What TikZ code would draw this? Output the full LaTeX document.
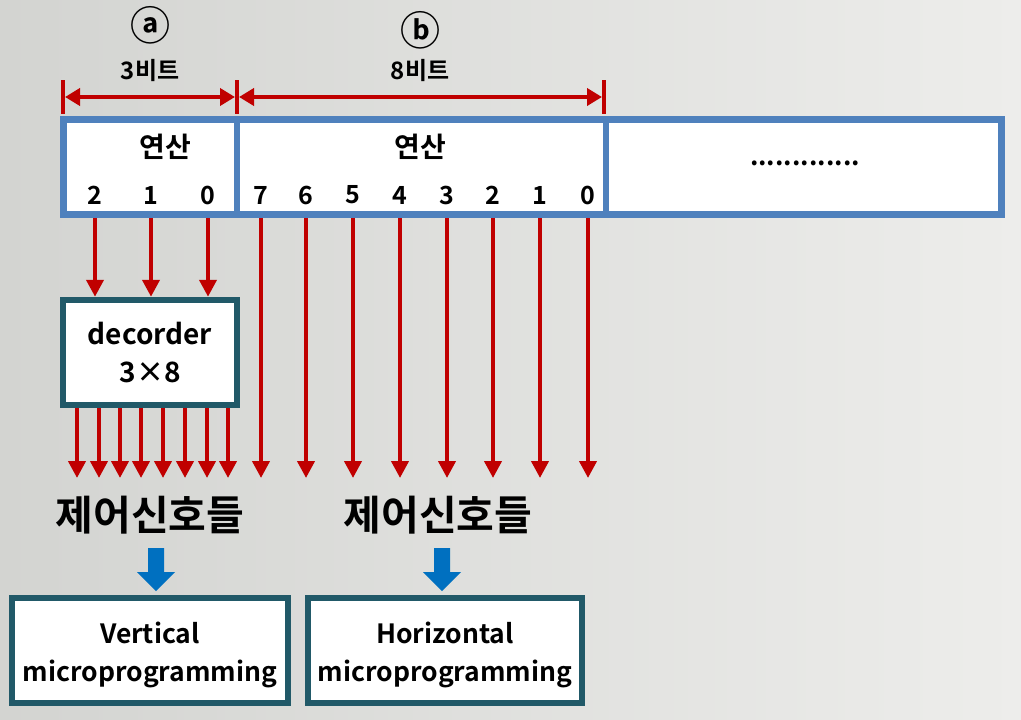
\documentclass[tikz,border=0pt]{standalone}
\usepackage{fontspec}
\setmainfont{Noto Sans CJK KR}[BoldFont={Noto Sans CJK KR Bold}]
\usetikzlibrary{arrows.meta}
\definecolor{bred}{HTML}{C00000}
\definecolor{bblue}{HTML}{4F81BD}
\definecolor{bteal}{HTML}{215968}
\definecolor{barrow}{HTML}{0070C0}
\definecolor{bgl}{HTML}{D3D4D1}
\definecolor{bgr}{HTML}{EDEDEB}
\tikzset{
  fs/.style 2 args={font=\bfseries\fontsize{#1}{#2}\selectfont},
  txt/.style={inner sep=0pt, text=black},
  redarrow/.style={draw=bred, line width=4pt, -{Triangle[width=17pt,length=17pt]}},
  dimarrow/.style={draw=bred, line width=4pt, {Triangle[width=17pt,length=15pt]}-{Triangle[width=17pt,length=15pt]}},
  tick/.style={draw=bred, line width=4pt},
  tealbox/.style={draw=bteal, line width=6.5pt, fill=white, align=center, inner sep=0pt},
  blockarrow/.style={fill=barrow, draw=none}
}
\begin{document}
\begin{tikzpicture}[x=1pt,y=-1pt]
\shade[left color=bgl, right color=bgr] (0,0) rectangle (1021,720);
\useasboundingbox (0,0) rectangle (1021,720);

% register
\node[draw=bblue, line width=7pt, fill=white, minimum width=938pt, minimum height=95pt, inner sep=0pt] (reg) at (532.5,167) {};
\coordinate (d1) at (237,167);
\coordinate (d2) at (606,167);
\draw[draw=bblue, line width=6pt] (d1 |- reg.north) -- (d1 |- reg.south);
\draw[draw=bblue, line width=6pt] (d2 |- reg.north) -- (d2 |- reg.south);

\node[txt, fs={28}{34}] (opa) at (165,147) {연산};
\node[txt, fs={28}{34}] (opb) at (420,147) {연산};
\node[txt, fs={26}{30}] (dots) at (805,163) {.............};

\foreach \x/\l [count=\i] in {95/2,151/1,208/0} {
  \node[txt, fs={25}{30}] (ba\i) at (\x,195) {\l};
}
\foreach \x/\l [count=\i] in {261/7,306/6,353/5,400/4,447/3,493/2,540/1,588/0} {
  \node[txt, fs={25}{30}] (bb\i) at (\x,195) {\l};
}

% dimension lines
\node[txt, fs={40}{44}] (ca) at (150,25) {ⓐ};
\node[txt, fs={40}{44}] (cb) at (420,30) {ⓑ};
\node[txt, fs={24}{29}] (la) at (150,71) {3비트};
\node[txt, fs={24}{29}] (lb) at (420,71) {8비트};
\coordinate (t1a) at (63,80);  \coordinate (t1b) at (63,114);
\coordinate (t2a) at (237,80); \coordinate (t2b) at (237,114);
\coordinate (t3a) at (604,80); \coordinate (t3b) at (604,114);
\draw[tick] (t1a) -- (t1b);
\draw[tick] (t2a) -- (t2b);
\draw[tick] (t3a) -- (t3b);
\coordinate (m1) at (63,97); \coordinate (m2) at (237,97); \coordinate (m3) at (604,97);
\draw[dimarrow] ([xshift=2pt]m1) -- ([xshift=-2pt]m2);
\draw[dimarrow] ([xshift=2pt]m2) -- ([xshift=-2pt]m3);

% decoder
\node[tealbox, minimum width=174pt, minimum height=105pt, fs={28}{38}] (dec) at (150,352.5) {decorder\\3×8};
\foreach \x [count=\i] in {95,151,208} {
  \coordinate (sa\i) at (\x,218);
  \draw[redarrow] (sa\i) -- (sa\i |- dec.north);
}
\coordinate (row) at (0,478);
\foreach \x [count=\i] in {77,99,120,141,163,185,207,228} {
  \coordinate (oa\i) at (\x,408);
  \draw[redarrow] (oa\i) -- (oa\i |- row);
}
\foreach \x [count=\i] in {261,306,353,400,447,493,540,588} {
  \coordinate (sb\i) at (\x,218);
  \draw[redarrow] (sb\i) -- (sb\i |- row);
}

% control signals
\node[txt, fs={41}{48}] (csa) at (150,515) {제어신호들};
\node[txt, fs={41}{48}] (csb) at (438,515) {제어신호들};

% block arrows
\foreach \c/\n in {156/ba, 442/bb} {
  \fill[blockarrow] (\c-8,548) -- (\c+8,548) -- (\c+8,572) -- (\c+19,572) -- (\c,591) -- (\c-19,572) -- (\c-8,572) -- cycle;
}

% bottom boxes
\node[tealbox, minimum width=276pt, minimum height=105pt] (vert) at (150,650.5) {};
\node[tealbox, minimum width=274pt, minimum height=105pt] (horz) at (445,650.5) {};
\node[txt, align=center, fs={26.5}{38}] (vtxt) at (150,655) {Vertical\\microprogramming};
\node[txt, align=center, fs={26.5}{38}] (htxt) at (445,655) {Horizontal\\microprogramming};
\end{tikzpicture}
\end{document}
